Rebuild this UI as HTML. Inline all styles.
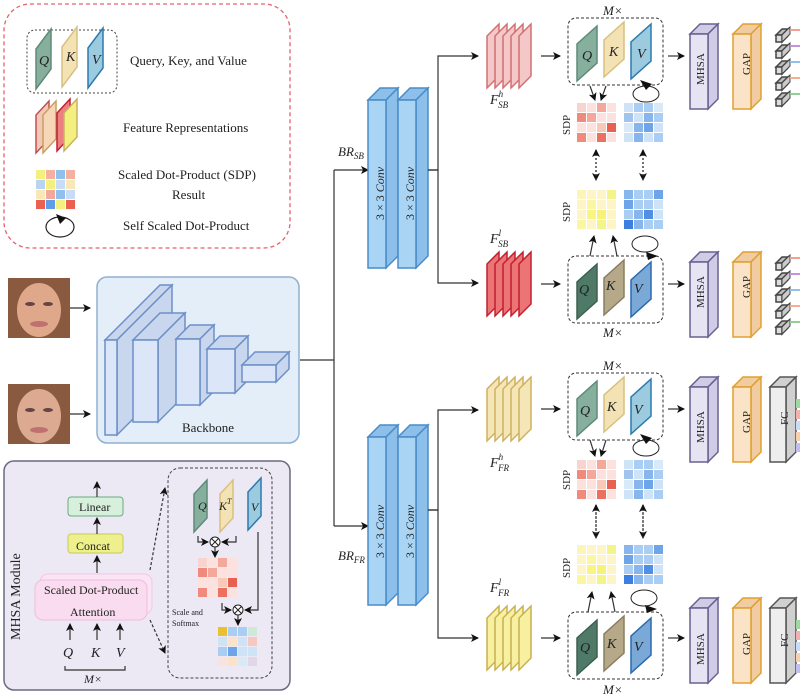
<!DOCTYPE html><html><head><meta charset="utf-8"><style>body{margin:0;background:#fff}svg{display:block}text{font-family:"Liberation Serif",serif;fill:#222}.i{font-style:italic}</style></head><body>
<svg id="s" width="800" height="697" viewBox="0 0 800 697" xmlns="http://www.w3.org/2000/svg">
<defs><marker id="a" markerWidth="8" markerHeight="8" refX="7" refY="4" orient="auto" markerUnits="userSpaceOnUse"><path d="M0,0 L8,4 L0,8 L2,4z" fill="#111"/></marker></defs>
<g id="shapes"></g>
<g id="txt">
<text x="130" y="65" font-size="13">Query, Key, and Value</text>
<text x="123" y="132" font-size="13">Feature Representations</text>
<text x="118" y="179" font-size="13">Scaled Dot-Product (SDP)</text>
<text x="172" y="199" font-size="13">Result</text>
<text x="123" y="230" font-size="13">Self Scaled Dot-Product</text>
<text x="39" y="65" font-size="14" class="i">Q</text><text x="66" y="61" font-size="14" class="i">K</text><text x="92" y="64" font-size="14" class="i">V</text>
<text x="182" y="432" font-size="13">Backbone</text>
<text x="338" y="156" font-size="13" class="i">BR<tspan font-size="9" dy="3">SB</tspan></text>
<text x="338" y="560" font-size="13" class="i">BR<tspan font-size="9" dy="3">FR</tspan></text>
<text transform="translate(384,220) rotate(-90)" font-size="12">3 × 3 <tspan class="i">Conv</tspan></text>
<text transform="translate(414,220) rotate(-90)" font-size="12">3 × 3 <tspan class="i">Conv</tspan></text>
<text transform="translate(384,558) rotate(-90)" font-size="12">3 × 3 <tspan class="i">Conv</tspan></text>
<text transform="translate(414,558) rotate(-90)" font-size="12">3 × 3 <tspan class="i">Conv</tspan></text>
<text x="490" y="104" font-size="14" class="i">F<tspan font-size="9" dy="-7">h</tspan><tspan font-size="9" dx="-5" dy="11">SB</tspan></text>
<text x="490" y="243" font-size="14" class="i">F<tspan font-size="9" dy="-7">l</tspan><tspan font-size="9" dx="-3" dy="11">SB</tspan></text>
<text x="490" y="467" font-size="14" class="i">F<tspan font-size="9" dy="-7">h</tspan><tspan font-size="9" dx="-5" dy="11">FR</tspan></text>
<text x="490" y="592" font-size="14" class="i">F<tspan font-size="9" dy="-7">l</tspan><tspan font-size="9" dx="-3" dy="11">FR</tspan></text>
<text x="603" y="15" font-size="13" class="i">M×</text>
<text x="603" y="337" font-size="13" class="i">M×</text>
<text x="603" y="370" font-size="13" class="i">M×</text>
<text x="603" y="694" font-size="13" class="i">M×</text>
<g font-size="14" class="i">
<text x="582" y="60">Q</text><text x="609" y="56">K</text><text x="637" y="58">V</text>
<text x="579" y="294">Q</text><text x="606" y="290">K</text><text x="634" y="293">V</text>
<text x="580" y="415">Q</text><text x="607" y="411">K</text><text x="634" y="414">V</text>
<text x="580" y="652">Q</text><text x="607" y="648">K</text><text x="634" y="651">V</text>
</g>
<g font-size="11">
<text transform="translate(570,135) rotate(-90)">SDP</text>
<text transform="translate(570,222) rotate(-90)">SDP</text>
<text transform="translate(570,490) rotate(-90)">SDP</text>
<text transform="translate(570,578) rotate(-90)">SDP</text>
<text transform="translate(704,85) rotate(-90)">MHSA</text>
<text transform="translate(750,75) rotate(-90)">GAP</text>
<text transform="translate(704,308) rotate(-90)">MHSA</text>
<text transform="translate(750,298) rotate(-90)">GAP</text>
<text transform="translate(704,443) rotate(-90)">MHSA</text>
<text transform="translate(750,433) rotate(-90)">GAP</text>
<text transform="translate(788,425) rotate(-90)">FC</text>
<text transform="translate(704,665) rotate(-90)">MHSA</text>
<text transform="translate(750,655) rotate(-90)">GAP</text>
<text transform="translate(788,647) rotate(-90)">FC</text>
</g>
<text transform="translate(20,640) rotate(-90)" font-size="14" font-family="Liberation Sans,sans-serif">MHSA Module</text>
<text x="79" y="511" font-size="12">Linear</text>
<text x="76" y="550" font-size="12">Concat</text>
<text x="44" y="594" font-size="12">Scaled Dot-Product</text>
<text x="70" y="616" font-size="12">Attention</text>
<text x="63" y="657" font-size="14" class="i">Q</text><text x="91" y="657" font-size="14" class="i">K</text><text x="116" y="657" font-size="14" class="i">V</text>
<text x="84" y="683" font-size="12" class="i">M×</text>
<text x="198" y="510" font-size="12" class="i">Q</text><text x="219" y="510" font-size="12" class="i">K<tspan font-size="8" dy="-6">T</tspan></text><text x="251" y="511" font-size="12" class="i">V</text>
<text x="172" y="615" font-size="8">Scale and</text><text x="172" y="626" font-size="8">Softmax</text>
</g>
</svg>
<script>
const g=document.getElementById('shapes');let h='';
const P=(pts,f,s,w=1)=>h+=`<polygon points="${pts}" fill="${f}" stroke="${s}" stroke-width="${w}"/>`;
const R=(x,y,w,ht,f,s,rx=0,extra='')=>h+=`<rect x="${x}" y="${y}" width="${w}" height="${ht}" rx="${rx}" fill="${f}" stroke="${s}" ${extra}/>`;
const L=(d,arrow,extra='')=>h+=`<path d="${d}" fill="none" stroke="#333" stroke-width="1.2" ${arrow?'marker-end="url(#a)"':''} ${extra}/>`;
const para=(x,yb,w,ht,sh,f,s)=>P(`${x},${yb} ${x},${yb-ht} ${x+w},${yb-ht-sh} ${x+w},${yb-sh}`,f,s,1.5);
function box3(x,y,w,ht,d,f,s,sf){P(`${x},${y} ${x+d},${y-d} ${x+w+d},${y-d} ${x+w},${y}`,sf,s,1.5);P(`${x+w},${y} ${x+w+d},${y-d} ${x+w+d},${y+ht-d} ${x+w},${y+ht}`,sf,s,1.5);R(x,y,w,ht,f,s,0,'stroke-width="1.5"');}
function grid(x,y,cols){for(let r=0;r<4;r++)for(let c=0;c<4;c++)R(x+c*10,y+r*10,9,9,cols[(r*4+c)%cols.length],'none');}
const red=['#f8d4d0','#fbe2de','#f4a89c','#fbe2de','#f08a7c','#f4a89c','#fbe2de','#fbe2de','#fbe2de','#fbe2de','#f8c8b8','#e86050','#f08a7c','#fbe2de','#ec7060','#fbe2de'];
const blue=['#cfe3f7','#a9cdf3','#a9cdf3','#d8e9f8','#a0c4ee','#cfe3f7','#88b6ec','#a9cdf3','#d8e9f8','#88b6ec','#6ea4e8','#cfe3f7','#cfe3f7','#88b6ec','#cfe3f7','#a9cdf3'];
const blue2=['#88b6ec','#a9cdf3','#a9cdf3','#6ea4e8','#6ea4e8','#a9cdf3','#a9cdf3','#cfe3f7','#a9cdf3','#88b6ec','#4f8fe4','#cfe3f7','#3d7fe0','#88b6ec','#a9cdf3','#a9cdf3'];
const yel=['#fdf5b8','#fdf5c8','#fdf5c8','#f3f58a','#fdf5c8','#fbf6a0','#fdf5c8','#fdf5c8','#fdf5c8','#f9f580','#f7f278','#fdf5c8','#fbf6a0','#fdf5c8','#f3f58a','#fdf5c8'];
R(4,4,286,244,'none','#e86070',26,'stroke-dasharray="4,3" stroke-width="1.3"');
R(27,30,90,63,'none','#444',8,'stroke-dasharray="2,2"');
para(36,89,15,40,20,'#86b09d','#5e8a78');para(62,87,15,40,20,'#f3e2b3','#d8c080');para(88,88,15,40,20,'#9ccbe0','#2a7ab0');
[['#f4c8b8','#c05050'],['#f6d8b8','#c8a060'],['#ec8080','#c02030'],['#f4f080','#c8b060']].forEach((c,i)=>para(36+i*7+(i>1?7:0),153-(i>1?2:0),13,38,14,c[0],c[1]));
grid(36,170,['#f4f080','#f4b0a0','#90c0ee','#f4b0a0','#b8d4f0','#f4f080','#c8dcf8','#f8e8b8','#f8e8b8','#f4a89c','#90c0ee','#c8dcf8','#ec6050','#5e9ee8','#f4f080','#ec6050']);
h+=`<ellipse cx="60" cy="227" rx="14" ry="10" fill="none" stroke="#222" stroke-width="1.2"/><path d="M56,214 L66,218 L60,224z" fill="#111"/>`;
[[8,278],[8,384]].forEach(([x,y],i)=>{R(x,y,62,60,'#8a5a40','none');h+=`<ellipse cx="${x+31}" cy="${y+32}" rx="22" ry="27" fill="${i?'#dcaa90':'#e0a88a'}"/><ellipse cx="${x+22}" cy="${y+26}" rx="5" ry="2" fill="#644"/><ellipse cx="${x+40}" cy="${y+26}" rx="5" ry="2" fill="#644"/><ellipse cx="${x+31}" cy="${y+46}" rx="9" ry="3" fill="#c07070"/>`;L(`M${x+62},${y+30} H90`,1);});
R(97,277,202,166,'#e3eef8','#8fb0d0',10,'stroke-width="1.5"');
const bc='#dbe7f8',bs='#6d8fc8',bsd='#c8d6ee';
box3(105,340,12,95,55,bc,bs,bsd);box3(133,340,25,82,27,bc,bs,bsd);box3(176,339,24,66,14,bc,bs,bsd);box3(207,349,28,44,13,bc,bs,bsd);box3(242,365,34,17,13,bc,bs,bsd);
L('M300,360 H334');L('M334,170 V526');L('M334,170 H368',1);L('M334,526 H368',1);
const cf='#a9d4f4',cs='#4a8cc8',csd='#8cc0ea';
box3(368,100,18,168,12,cf,cs,csd);box3(398,100,18,168,12,cf,cs,csd);
box3(368,437,18,168,12,cf,cs,csd);box3(398,437,18,168,12,cf,cs,csd);
L('M428,170 H438 V56 H478',1);L('M428,170 H438 V283 H478',1);
L('M428,510 H438 V410 H478',1);L('M428,510 H438 V638 H478',1);
function branch(y0,ys,stackF,stackS,q,k,v,g1,by,dir,fc){
 for(let i=0;i<5;i++)para(487+i*8,ys+64,12,52,12,stackF,stackS);
 const ya=ys+32;
 L(`M541,${ya} H560`,1);
 R(568,by,95,67,'none','#333',8,'stroke-dasharray="3,2"');
 para(577,by+63,20,37,18,q[0],q[1]);para(604,by+59,20,37,18,k[0],k[1]);para(631,by+61,20,37,18,v[0],v[1]);
 L(`M668,${ya} H684`,1);
 box3(690,y0+10,18,75,10,'#e6e3f3','#6a6090','#d0cce6');box3(733,y0+10,18,75,10,'#fbe3c8','#e0a030','#f0cca0');
 if(fc){box3(770,y0+10,16,75,10,'#eeeeee','#555','#d0d0d0');['#9ed89e','#f4b0b0','#c8dcf8','#f8d0b0','#c0c0f0'].forEach((c,i)=>R(796,y0+22+i*11,5,9,c,'none'));}
 else{for(let i=0;i<5;i++){const yy=y0+6+i*16;box3(776,yy+5,6,7,6,'#ddd','#444','#bbb');P(`${782},${yy+5} ${790},${yy-3} ${790},${yy+4} ${782},${yy+12}`,'#ccc','#444',1);h+=`<line x1="790" y1="${yy}" x2="800" y2="${yy}" stroke="${['#f4a090','#c890e0','#90c0ee','#f4b090','#90d090'][i]}" stroke-width="2"/>`;}}
 grid(577,g1,red.map((c,i)=>dir?c:(yel[i])));grid(624,g1,dir?blue:blue2);
}
const qT=[['#86b09d','#5e8a78'],['#f3e2b3','#d8c080'],['#9ccbe0','#2a7ab0']];
const qB=[['#4f7a68','#3e6050'],['#b5a98a','#8a7e60'],['#7aa9d8','#2a6ab0']];
branch(24,24,'#f4c8c8','#d07070',qT[0],qT[1],qT[2],103,18,1,0);
branch(252,252,'#ec7474','#c02030',qB[0],qB[1],qB[2],190,256,0,0);
branch(377,377,'#f5e6b8','#d0b060',qT[0],qT[1],qT[2],460,373,1,1);
branch(598,606,'#f6f0a0','#c8b050',qB[0],qB[1],qB[2],545,612,0,1);
L('M590,86 L595,100',1);L('M606,86 L601,100',1);
h+=`<ellipse cx="646" cy="94" rx="13" ry="8" fill="none" stroke="#222"/><path d="M640,80 L652,84 L646,90z" fill="#111"/>`;
L('M596,150 V180',1,'stroke-dasharray="2,2"');L('M596,180 V150',1,'stroke-dasharray="2,2"');L('M643,150 V180',1,'stroke-dasharray="2,2"');L('M643,180 V150',1,'stroke-dasharray="2,2"');
L('M590,256 L594,236',1);L('M617,256 L613,236',1);
h+=`<ellipse cx="645" cy="244" rx="13" ry="8" fill="none" stroke="#222"/><path d="M646,252 L658,256 L648,260z" fill="#111"/>`;
L('M590,440 L595,456',1);L('M606,440 L601,456',1);
h+=`<ellipse cx="646" cy="448" rx="13" ry="8" fill="none" stroke="#222"/><path d="M640,434 L652,438 L646,444z" fill="#111"/>`;
L('M596,505 V538',1,'stroke-dasharray="2,2"');L('M596,538 V505',1,'stroke-dasharray="2,2"');L('M643,505 V538',1,'stroke-dasharray="2,2"');L('M643,538 V505',1,'stroke-dasharray="2,2"');
L('M588,612 L592,592',1);L('M615,612 L611,592',1);
h+=`<ellipse cx="644" cy="598" rx="13" ry="8" fill="none" stroke="#222"/><path d="M645,605 L657,609 L647,613z" fill="#111"/>`;
R(4,461,286,229,'#ece9f5','#6a6a80',10,'stroke-width="1.5"');
R(40,574,112,40,'#fbe4f4','#f0c8e8',8);R(35,580,112,40,'#f9dcef','#f0bce0',8);
R(68,497,55,19,'#d6f0dc','#6aaa80',3);R(68,534,55,19,'#eef08c','#c8c860',3);
L('M97,497 V482',1);L('M97,534 V518',1);L('M97,573 V556',1);
[70,97,120].forEach(x=>L(`M${x},640 V624`,1));
L('M65,666 V670 H125 V666');
R(168,468,104,210,'none','#444',12,'stroke-dasharray="3,2"');
L('M150,570 L165,488',1,'stroke-dasharray="3,2"');L('M150,620 L165,653',1,'stroke-dasharray="3,2"');
para(194,532,13,38,14,'#86b09d','#5e8a78');para(220,532,13,38,14,'#f3e2b3','#d8c080');para(248,530,13,38,14,'#9ccbe0','#2a7ab0');
h+=`<circle cx="215" cy="542" r="5" fill="#fff" stroke="#222"/><path d="M211.5,538.5 L218.5,545.5 M218.5,538.5 L211.5,545.5" stroke="#222"/>`;
L('M198,536 V542 H208',1);L('M236,536 V542 H222',1);L('M215,547 V557',1);
grid(198,558,red);
h+=`<circle cx="238" cy="610" r="5" fill="#fff" stroke="#222"/><path d="M234.5,606.5 L241.5,613.5 M241.5,606.5 L234.5,613.5" stroke="#222"/>`;
L('M222,603 V610 H231',1);L('M258,532 V610 H245',1);L('M238,615 V625',1);
grid(218,627,['#e8c030','#a9cdf3','#a9cdf3','#cfe8d8','#cfe3f7','#fbe2c8','#cfe3f7','#f8c8c0','#a9cdf3','#6ea4e8','#cfe3f7','#cfe3f7','#fbe2de','#fbe2c8','#d8e9f8','#e0d8e8']);
g.innerHTML=h;
</script>
</body></html>
